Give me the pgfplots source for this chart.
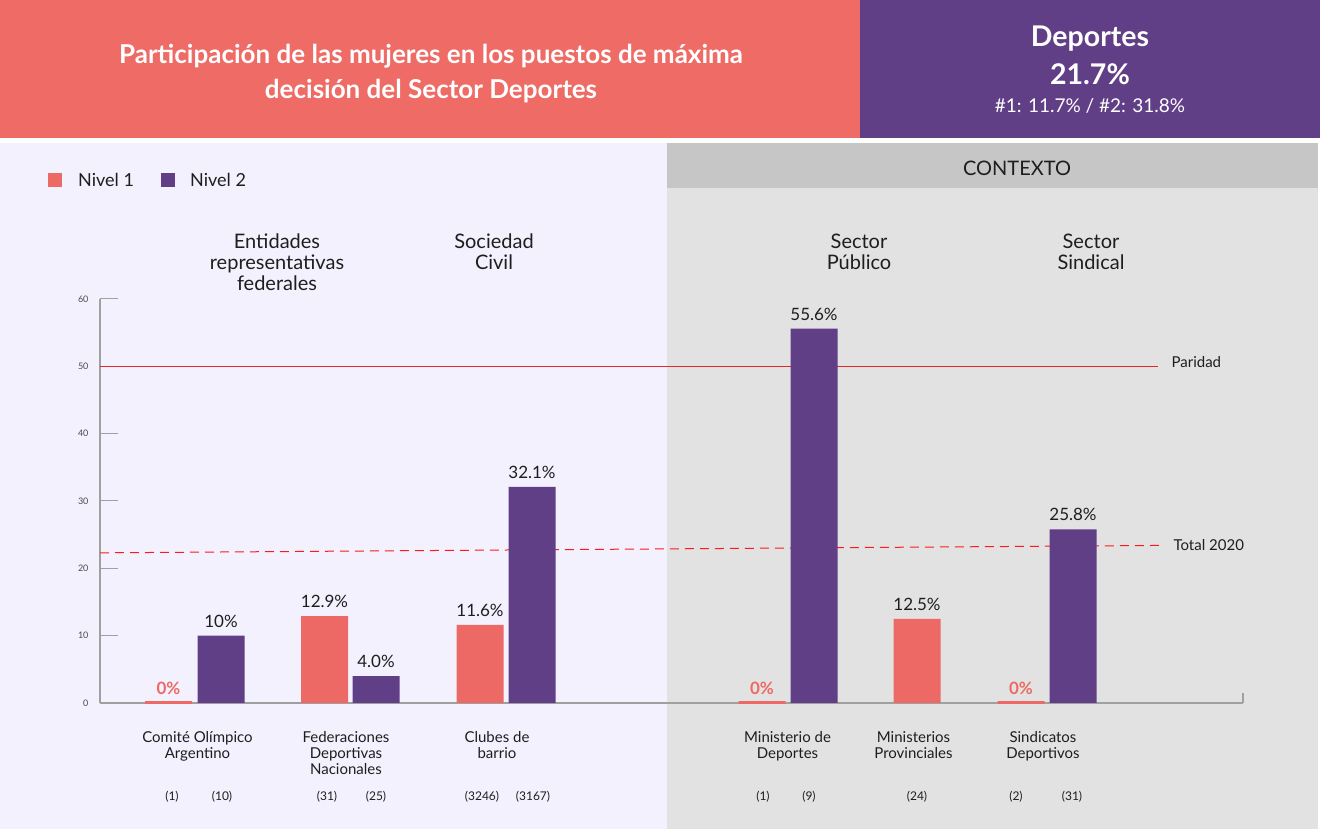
\documentclass[border=0pt]{standalone}
\usepackage{fontspec}
\setmainfont{Lato}
\usepackage{pgfplots}
\pgfplotsset{compat=1.18}
\usepackage{pgfplotstable}
\definecolor{coral}{HTML}{EC6966}
\definecolor{purp}{HTML}{613F86}
\definecolor{lav}{HTML}{F3F1FD}
\definecolor{gpanel}{HTML}{E2E2E2}
\definecolor{gband}{HTML}{C6C6C6}
\definecolor{hdr}{HTML}{EE6B66}
\definecolor{par}{HTML}{E8262A}
\definecolor{axgrey}{HTML}{A0A0A0}
\definecolor{txt}{HTML}{1E1E1E}
\newcommand{\fs}[1]{\fontsize{#1}{#1}\selectfont}

% Nivel 1 (non-zero)
\pgfplotstableread{
x y lab
324.5 12.9 12.9
480 11.6 11.6
917 12.5 12.5
}\nivelone
% Nivel 1 (zero)
\pgfplotstableread{
x y lab
168.5 0 0
762 0 0
1021 0 0
}\nivelonezero
% Nivel 2
\pgfplotstableread{
x y lab
221 10 10
376 4.0 4.0
532 32.1 32.1
814 55.6 55.6
1073 25.8 25.8
}\niveltwo

\begin{document}
\begin{tikzpicture}
\begin{scope}[x=1pt,y=-1pt,yshift=829pt]
\path[use as bounding box, fill=white] (0,0) rectangle (1320,829);
% header
\fill[hdr] (0,0) rectangle (860,138);
\fill[purp] (860,0) rectangle (1320,138);
\node[white, font=\bfseries\fs{26}, align=center] at (431,74) {Participación de las mujeres en los puestos de máxima\\[9pt]decisión del Sector Deportes};
\node[white, font=\bfseries\fs{28.5}] at (1090,39) {Deportes};
\node[white, font=\bfseries\fs{28.5}] at (1090,74) {21.7\%};
\node[white, font=\fs{19}] at (1090,106) {\#1: 11.7\% / \#2: 31.8\%};
% panels
\fill[lav] (0,143) rectangle (667,829);
\fill[gpanel] (667,143) rectangle (1318,829);
\fill[gband] (667,143) rectangle (1318,188);
\node[txt, font=\fs{20}] at (1017,168) {CONTEXTO};
% legend
\fill[coral] (48,173) rectangle (62,187);
\node[txt, font=\fs{18}, anchor=west, inner sep=0pt] at (78,180) {Nivel 1};
\fill[purp] (161,173) rectangle (175,187);
\node[txt, font=\fs{18}, anchor=west, inner sep=0pt] at (190,180) {Nivel 2};
% group headers
\node[txt, font=\fs{20}, align=center, anchor=north, inner sep=0pt] at (277,234) {Entidades\\[1pt]representativas\\[1pt]federales};
\node[txt, font=\fs{20}, align=center, anchor=north, inner sep=0pt] at (494,234) {Sociedad\\[1pt]Civil};
\node[txt, font=\fs{20}, align=center, anchor=north, inner sep=0pt] at (859,234) {Sector\\[1pt]Público};
\node[txt, font=\fs{20}, align=center, anchor=north, inner sep=0pt] at (1091,234) {Sector\\[1pt]Sindical};
\end{scope}

\begin{axis}[
  at={(100pt,126pt)}, anchor=south west,
  scale only axis, width=1143pt, height=404pt,
  xmin=100, xmax=1243, ymin=0, ymax=60,
  clip=false,
  axis lines=left,
  axis line style={-, draw=axgrey, line width=1.2pt},
  ytick={0,10,20,30,40,50,60},
  major tick length=18pt,
  ytick style={draw=axgrey, line width=1pt},
  tick align=inside,
  /pgf/number format/assume math mode=true,
  yticklabel style={font=\fs{9}, text=txt!80, xshift=-8pt},
  xtick={197.5,346,497,787.5,913.5,1043},
  xticklabels={{Comité Olímpico\\[1pt]Argentino},{Federaciones\\[1pt]Deportivas\\[1pt]Nacionales},{Clubes de\\[1pt]barrio},{Ministerio de\\[1pt]Deportes},{Ministerios\\[1pt]Provinciales},{Sindicatos\\[1pt]Deportivos}},
  xticklabel style={font=\fs{15}, text=txt, align=center, anchor=north, yshift=-7pt},
  xtick style={draw=none},
  ybar, bar width=47, bar shift=0pt,
  point meta=explicit symbolic,
]
\addplot[sharp plot, par, line width=1.6pt, forget plot] coordinates {(100,50) (1158,50)};
\addplot[sharp plot, red!90, dashed, dash pattern=on 9pt off 6pt, line width=1pt, forget plot] coordinates {(100,22.3) (1160,23.4)};
\addplot[fill=coral, draw=none, nodes near coords={\pgfplotspointmeta\%},
  every node near coord/.append style={anchor=south, inner sep=0pt, yshift=8pt, font=\fs{17}, text=txt}] table[x=x, y=y, meta=lab] {\nivelone};
\addplot[fill=coral, draw=coral, line width=3pt, nodes near coords={\pgfplotspointmeta\%},
  every node near coord/.append style={anchor=south, inner sep=0pt, yshift=7pt, text=coral, font=\bfseries\fs{17}}] table[x=x, y=y, meta=lab] {\nivelonezero};
\addplot[fill=purp, draw=none, nodes near coords={\pgfplotspointmeta\%},
  every node near coord/.append style={anchor=south, inner sep=0pt, yshift=8pt, font=\fs{17}, text=txt}] table[x=x, y=y, meta=lab] {\niveltwo};
\draw[axgrey, line width=1.2pt] (axis cs:1243,0) -- ++(0pt,10pt);
\node[txt, font=\fs{15}, anchor=west] at (axis cs:1168,50.6) {Paridad};
\node[txt, font=\fs{15}, anchor=west] at (axis cs:1170,23.4) {Total 2020};
\end{axis}

\begin{scope}[x=1pt,y=-1pt,yshift=829pt]
\foreach \x/\t in {172/(1),222/(10),327/(31),376/(25),482/(3246),533/(3167),763/(1),809/(9),917/(24),1016/(2),1072/(31)}
  \node[txt, font=\fs{12}] at (\x,797) {\t};
\end{scope}
\end{tikzpicture}
\end{document}
